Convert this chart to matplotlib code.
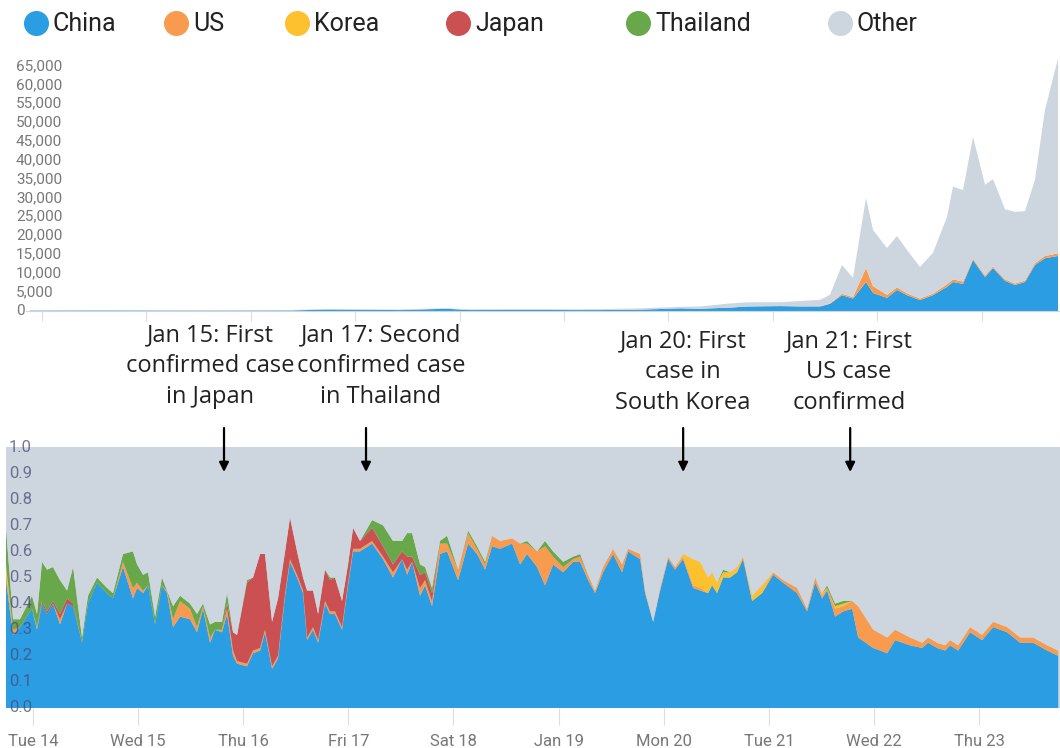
import matplotlib
matplotlib.use("Agg")
import matplotlib.pyplot as plt
import matplotlib.transforms as mtransforms
from matplotlib.lines import Line2D

# ---- colours / names
names = ["China", "US", "Korea", "Japan", "Thailand", "Other"]
colors = ["#2A9DE3", "#F99B4E", "#FDC02F", "#CB5051", "#69A84A", "#CDD6DE"]

# ---- top chart: case counts (days since Tue Jan 14, 00:00)
top_days = [-0.115, 0.556, 1.513, 2.375, 2.759, 3.046, 3.429, 3.870, 4.100, 4.674,
            5.057, 5.345, 5.728, 6.111, 6.303, 6.590, 6.753, 7.069, 7.261, 7.452,
            7.548, 7.663, 7.768, 7.893, 7.960, 8.094, 8.190, 8.285, 8.410, 8.534,
            8.669, 8.726, 8.822, 8.918, 9.033, 9.109, 9.224, 9.320, 9.416, 9.511,
            9.607, 9.732]
top_china = [100, 150, 100, 150, 400, 300, 250, 600, 250, 300,
             250, 250, 350, 700, 600, 900, 1200, 1300, 1200, 1200,
             1900, 4200, 3300, 7700, 4800, 3500, 5600, 4200, 2900, 4200,
             6400, 7700, 7200, 13500, 9000, 11400, 8000, 6900, 7700, 12200,
             14000, 14600]
top_us = [0, 0, 0, 0, 0, 0, 0, 0, 0, 0,
          0, 0, 0, 0, 0, 0, 0, 30, 50, 60,
          100, 400, 400, 3700, 1800, 800, 700, 500, 400, 400,
          700, 700, 600, 400, 400, 400, 400, 400, 400, 500,
          600, 700]
top_other = [50, 100, 100, 100, 150, 150, 150, 150, 200, 200,
             200, 250, 350, 400, 600, 1100, 1100, 1000, 1400, 1700,
             2300, 7600, 5100, 18600, 14900, 12400, 13600, 11500, 8400, 10800,
             17900, 24600, 24300, 32300, 24100, 23200, 18600, 19000, 18400, 22100,
             38700, 51700]
count_ticks = list(range(0, 65001, 5000))

# ---- bottom chart: share of total (days since Tue Jan 14, 00:00)
days = [-0.257, -0.190, -0.124, -0.010, 0.038, 0.086, 0.133, 0.190, 0.257, 0.324,
        0.381, 0.466, 0.523, 0.609, 0.704, 0.761, 0.856, 0.951, 0.990, 1.047,
        1.094, 1.161, 1.227, 1.275, 1.332, 1.399, 1.494, 1.560, 1.617, 1.684,
        1.732, 1.798, 1.846, 1.903, 1.941, 2.036, 2.093, 2.160, 2.207, 2.274,
        2.331, 2.398, 2.445, 2.512, 2.569, 2.607, 2.664, 2.712, 2.778, 2.826,
        2.873, 2.940, 2.997, 3.045, 3.111, 3.226, 3.330, 3.425, 3.511, 3.559,
        3.606, 3.682, 3.730, 3.796, 3.872, 3.939, 4.044, 4.139, 4.224, 4.301,
        4.367, 4.443, 4.558, 4.634, 4.700, 4.795, 4.871, 4.948, 5.043, 5.138,
        5.205, 5.281, 5.347, 5.423, 5.518, 5.604, 5.661, 5.776, 5.823, 5.899,
        5.966, 6.042, 6.108, 6.184, 6.280, 6.346, 6.422, 6.460, 6.508, 6.565,
        6.632, 6.698, 6.755, 6.841, 6.936, 7.041, 7.136, 7.269, 7.364, 7.441,
        7.507, 7.555, 7.631, 7.707, 7.793, 7.850, 7.993, 8.126, 8.202, 8.344,
        8.459, 8.516, 8.601, 8.677, 8.725, 8.801, 8.915, 9.029, 9.134, 9.267,
        9.391, 9.515, 9.648, 9.753]
china = [0.49, 0.28, 0.31, 0.38, 0.30, 0.40, 0.36, 0.40, 0.32, 0.40,
         0.39, 0.25, 0.40, 0.48, 0.44, 0.42, 0.54, 0.42, 0.46, 0.44,
         0.47, 0.32, 0.47, 0.44, 0.31, 0.35, 0.34, 0.29, 0.38, 0.25,
         0.30, 0.29, 0.36, 0.20, 0.17, 0.16, 0.21, 0.22, 0.29, 0.15,
         0.19, 0.43, 0.56, 0.50, 0.44, 0.26, 0.30, 0.25, 0.40, 0.36,
         0.36, 0.30, 0.47, 0.60, 0.60, 0.63, 0.57, 0.50, 0.57, 0.51,
         0.56, 0.43, 0.47, 0.39, 0.59, 0.60, 0.49, 0.63, 0.59, 0.53,
         0.62, 0.61, 0.63, 0.55, 0.59, 0.54, 0.47, 0.55, 0.52, 0.56,
         0.56, 0.49, 0.44, 0.52, 0.59, 0.52, 0.60, 0.57, 0.44, 0.33,
         0.45, 0.57, 0.53, 0.57, 0.46, 0.45, 0.44, 0.47, 0.44, 0.50,
         0.50, 0.52, 0.57, 0.41, 0.44, 0.51, 0.48, 0.44, 0.37, 0.48,
         0.42, 0.45, 0.35, 0.37, 0.38, 0.27, 0.23, 0.21, 0.26, 0.24,
         0.23, 0.25, 0.23, 0.22, 0.24, 0.22, 0.29, 0.26, 0.31, 0.29,
         0.25, 0.25, 0.22, 0.20]
us = [0.03, 0.02, 0.00, 0.00, 0.01, 0.00, 0.00, 0.00, 0.02, 0.00,
      0.00, 0.00, 0.00, 0.00, 0.00, 0.00, 0.02, 0.04, 0.02, 0.01,
      0.00, 0.00, 0.00, 0.01, 0.03, 0.06, 0.04, 0.02, 0.01, 0.02,
      0.00, 0.01, 0.02, 0.02, 0.01, 0.01, 0.01, 0.01, 0.01, 0.01,
      0.01, 0.01, 0.01, 0.01, 0.01, 0.01, 0.01, 0.01, 0.01, 0.01,
      0.01, 0.01, 0.01, 0.01, 0.01, 0.01, 0.01, 0.02, 0.00, 0.02,
      0.00, 0.03, 0.02, 0.02, 0.04, 0.03, 0.04, 0.04, 0.02, 0.02,
      0.04, 0.03, 0.02, 0.08, 0.04, 0.06, 0.15, 0.03, 0.02, 0.01,
      0.02, 0.02, 0.01, 0.02, 0.02, 0.03, 0.01, 0.02, 0.01, 0.00,
      0.01, 0.01, 0.01, 0.01, 0.01, 0.01, 0.00, 0.00, 0.00, 0.00,
      0.00, 0.00, 0.01, 0.00, 0.00, 0.01, 0.01, 0.02, 0.01, 0.02,
      0.01, 0.01, 0.03, 0.02, 0.03, 0.12, 0.07, 0.06, 0.04, 0.03,
      0.02, 0.02, 0.02, 0.02, 0.02, 0.02, 0.02, 0.02, 0.02, 0.02,
      0.02, 0.02, 0.02, 0.02]
korea = [0.03] + [0.0] * 92 + [0.01, 0.10, 0.10, 0.06, 0.05, 0.04, 0.02,
                                0.02, 0.02, 0.00, 0.02, 0.03, 0.00, 0.00, 0.00, 0.00, 0.00,
                                0.01, 0.00, 0.01, 0.01, 0.00] + [0.0] * 19
japan = [0.00, 0.00, 0.00, 0.00, 0.00, 0.01, 0.01, 0.01, 0.02, 0.02,
         0.01, 0.00, 0.00, 0.00, 0.00, 0.00, 0.00, 0.00, 0.00, 0.00,
         0.00, 0.00, 0.00, 0.00, 0.00, 0.00, 0.00, 0.00, 0.00, 0.00,
         0.00, 0.00, 0.02, 0.07, 0.10, 0.31, 0.28, 0.36, 0.29, 0.17,
         0.22, 0.16, 0.16, 0.09, 0.05, 0.18, 0.14, 0.10, 0.12, 0.12,
         0.13, 0.10, 0.07, 0.08, 0.03, 0.05, 0.04, 0.03, 0.03, 0.05,
         0.02, 0.05, 0.03, 0.03] + [0.0] * 70
thai = [0.14, 0.04, 0.03, 0.05, 0.05, 0.15, 0.16, 0.13, 0.13, 0.03,
        0.14, 0.02, 0.03, 0.02, 0.02, 0.02, 0.03, 0.14, 0.07, 0.06,
        0.05, 0.03, 0.03, 0.00, 0.05, 0.02, 0.02, 0.05, 0.01, 0.05,
        0.03, 0.03, 0.04, 0.00, 0.00, 0.01, 0.00, 0.00, 0.00, 0.00,
        0.00, 0.00, 0.00, 0.00, 0.00, 0.00, 0.00, 0.00, 0.00, 0.01,
        0.00, 0.00, 0.00, 0.00, 0.00, 0.03, 0.08, 0.09, 0.04, 0.09,
        0.09, 0.04, 0.02, 0.02, 0.01, 0.03, 0.00, 0.01, 0.01, 0.01,
        0.00, 0.00, 0.00, 0.00, 0.01, 0.00, 0.02, 0.02, 0.02, 0.01,
        0.01] + [0.0] * 18 + [0.01] + [0.0] * 11 + [0.01, 0.01, 0.01] + [0.0] * 20
other = [1 - sum(v) for v in zip(china, us, korea, japan, thai)]

day_labels = ["Tue 14", "Wed 15", "Thu 16", "Fri 17", "Sat 18",
              "Jan 19", "Mon 20", "Tue 21", "Wed 22", "Thu 23"]
share_ticks = [0.0, 0.1, 0.2, 0.3, 0.4, 0.5, 0.6, 0.7, 0.8, 0.9, 1.0]

# annotations: (text, arrow day, text centre x in px, middle-line y in px)
events = [("Jan 15: First\nconfirmed case\nin Japan", 1.817, 210, 366),
          ("Jan 17: Second\nconfirmed case\nin Thailand", 3.168, 381, 366),
          ("Jan 20: First\ncase in\nSouth Korea", 6.185, 683, 372),
          ("Jan 21: First\nUS case\nconfirmed", 7.774, 849, 372)]

W, H = 1060, 748
fig = plt.figure(figsize=(W / 100, H / 100), dpi=100)
plt.rcParams['font.family'] = ['Roboto', 'DejaVu Sans']

# ---------------- top chart
ax1 = fig.add_axes([26 / W, (H - 311) / H, 1034 / W, 256.3 / H])
ax1.stackplot(top_days, top_china, top_us, top_other,
              colors=[colors[0], colors[1], colors[5]], linewidth=0)
ax1.set_xlim(-0.153, 9.751)
ax1.set_ylim(0, 68000)
for s in ["top", "right", "left"]:
    ax1.spines[s].set_visible(False)
ax1.spines["bottom"].set_color("#d5d5d5")
ax1.set_xticks(range(10))
ax1.set_xticklabels([])
ax1.tick_params(axis="x", length=7, color="#dddddd")
ax1.set_yticks([])
tr = mtransforms.blended_transform_factory(fig.transFigure, ax1.transData)
for v in count_ticks:
    ax1.text(16 / W, v, f"{v:,}", transform=tr, ha="left", va="center",
             fontsize=11, color="#777777", clip_on=False)

# ---------------- bottom chart
ax2 = fig.add_axes([6 / W, (H - 708) / H, 1054 / W, 261 / H])
ax2.set_facecolor(colors[5])
ax2.stackplot(days, china, us, korea, japan, thai, other,
              colors=colors, linewidth=0)
ax2.set_xlim(-0.257, 9.77)
ax2.set_ylim(0, 1)
for s in ["top", "right", "left", "bottom"]:
    ax2.spines[s].set_visible(False)
ax2.set_xticks(range(10))
ax2.set_xticklabels(day_labels, fontsize=12, color="#777777")
ax2.tick_params(axis="x", length=12, color="#dddddd", pad=7)
ax2.set_yticks([])
for v in share_ticks:
    ax2.text(0.0025, v, f"{v:.1f}", transform=ax2.get_yaxis_transform(),
             ha="left", va="center", fontsize=12, color="#4a4a78", alpha=0.75)

# ---------------- annotations (text block centred on its middle line)
for txt, d, cx, cy in events:
    fig.text(cx / W, (H - cy) / H, txt, ha="center", va="center",
             fontsize=17, family="Open Sans", color="#222222",
             linespacing=1.38, transform=fig.transFigure)
    ax2.annotate("", xy=(d, (H - 472) / H), xytext=(d, (H - 428) / H),
                 xycoords=("data", "figure fraction"),
                 textcoords=("data", "figure fraction"),
                 arrowprops=dict(arrowstyle="-|>", color="black", lw=1.6,
                                 mutation_scale=14, shrinkA=0, shrinkB=0))

# ---------------- legend (manual, uneven spacing as in the original)
leg_x = [36, 176, 297, 458, 638, 840]
for name, c, x in zip(names, colors, leg_x):
    fig.add_artist(Line2D([x / W], [(H - 23) / H], marker="o", markersize=17,
                          color=c, linestyle="none", transform=fig.transFigure))
    fig.text((x + 17) / W, (H - 24) / H, name, ha="left", va="center",
             fontsize=18, color="#222222")

fig.savefig("out.png", dpi=100)
